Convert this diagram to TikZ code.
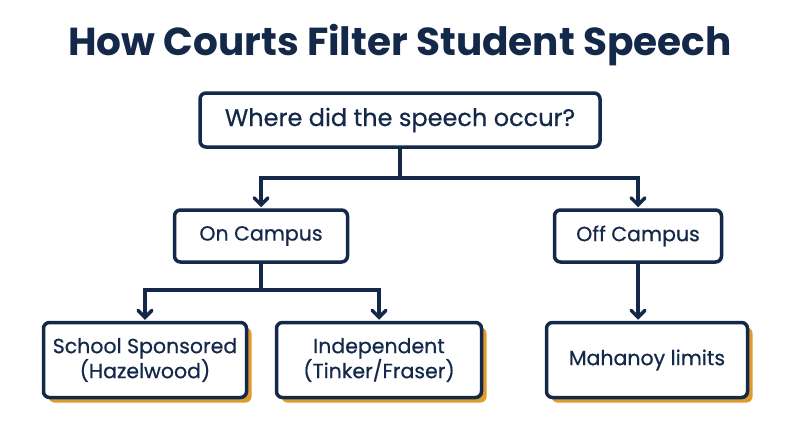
\documentclass[tikz,border=0pt]{standalone}
\usepackage{fontspec}
\setmainfont{Poppins}
\newfontfamily\medfont{Poppins}[FakeBold=0.6]
\usetikzlibrary{arrows.meta}
\definecolor{navy}{HTML}{14294A}
\definecolor{gold}{HTML}{E09B2D}
\tikzset{
  box/.style={draw=navy,line width=3.5pt,rounded corners=6pt,fill=white,
    text=navy,align=center,font=\medfont\fontsize{20.5}{25}\selectfont,inner sep=0pt},
  shadowbox/.style={box,preaction={fill=gold,draw=none,transform canvas={shift={(5pt,-5pt)}}}},
  link/.style={draw=navy,line width=3.5pt,line cap=round},
  arr/.style={link,-{Straight Barb[length=7pt,width=14pt,line cap=round]}}
}
\begin{document}
\begin{tikzpicture}[x=1pt,y=-1pt]
\useasboundingbox[fill=white] (0,0) rectangle (800,447);
\node[text=navy,font=\fontsize{39}{44}\selectfont\bfseries] (title) at (400,45) {How Courts Filter Student Speech};
\node[box,minimum width=400pt,minimum height=54pt,font=\medfont\fontsize{24}{28}\selectfont] (where) at (400,120) {Where did the speech occur?};
\node[box,minimum width=173pt,minimum height=52pt] (on) at (261,236) {On Campus};
\node[box,minimum width=167pt,minimum height=52pt] (off) at (638,236) {Off Campus};
\node[shadowbox,minimum width=203pt,minimum height=75pt] (school) at (145,360) {School Sponsored\\(Hazelwood)};
\node[shadowbox,minimum width=205pt,minimum height=75pt] (indep) at (379,360) {Independent\\(Tinker/Fraser)};
\node[shadowbox,minimum width=201pt,minimum height=75pt] (mahanoy) at (647,360) {Mahanoy limits};
\coordinate (j1) at (400,178);
\coordinate (j2) at (261,290);
\draw[link] (where.south) -- (j1);
\draw[arr] (j1) -| ([yshift=1pt]on.north);
\draw[arr] (j1) -| ([yshift=1pt]off.north);
\draw[link] (on.south) -- (j2);
\draw[arr] (j2) -| ([yshift=1pt]school.north);
\draw[arr] (j2) -| ([yshift=1pt]indep.north);
\draw[arr] (off.south) -- ([yshift=1pt]mahanoy.north -| off.south);
\end{tikzpicture}
\end{document}
